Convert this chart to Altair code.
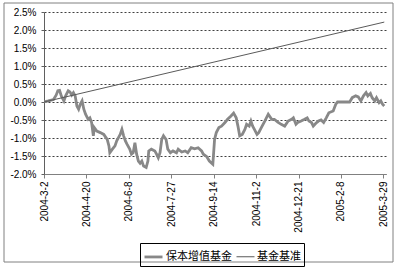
import altair as alt
import pandas as pd

# ---- data ----
series_names = ["保本增值基金", "基金基准"]

fund_dates = [
    "2004-03-02", "2004-03-07", "2004-03-13", "2004-03-16", "2004-03-18", "2004-03-20",
    "2004-03-22", "2004-03-25", "2004-03-27", "2004-03-30", "2004-04-01", "2004-04-03",
    "2004-04-05", "2004-04-07", "2004-04-09", "2004-04-11", "2004-04-13", "2004-04-15",
    "2004-04-17", "2004-04-19", "2004-04-22", "2004-04-24", "2004-04-26", "2004-04-28",
    "2004-04-29", "2004-05-02", "2004-05-06", "2004-05-10", "2004-05-14", "2004-05-16",
    "2004-05-17", "2004-05-20", "2004-05-23", "2004-05-25", "2004-05-27", "2004-05-29",
    "2004-05-31", "2004-06-02", "2004-06-04", "2004-06-06", "2004-06-09", "2004-06-11",
    "2004-06-13", "2004-06-15", "2004-06-17", "2004-06-19", "2004-06-21", "2004-06-23",
    "2004-06-25", "2004-06-28", "2004-06-30", "2004-07-01", "2004-07-04", "2004-07-08",
    "2004-07-10", "2004-07-12", "2004-07-14", "2004-07-16", "2004-07-18", "2004-07-21",
    "2004-07-23", "2004-07-26", "2004-07-29", "2004-08-02", "2004-08-04", "2004-08-08",
    "2004-08-12", "2004-08-15", "2004-08-19", "2004-08-23", "2004-08-27", "2004-08-31",
    "2004-09-02", "2004-09-06", "2004-09-09", "2004-09-13", "2004-09-15", "2004-09-17",
    "2004-09-20", "2004-09-23", "2004-09-27", "2004-09-30", "2004-10-04", "2004-10-07",
    "2004-10-10", "2004-10-12", "2004-10-14", "2004-10-17", "2004-10-20", "2004-10-22",
    "2004-10-25", "2004-10-27", "2004-10-29", "2004-10-31", "2004-11-03", "2004-11-05",
    "2004-11-08", "2004-11-12", "2004-11-16", "2004-11-20", "2004-11-23", "2004-11-27",
    "2004-12-01", "2004-12-05", "2004-12-09", "2004-12-13", "2004-12-15", "2004-12-18",
    "2004-12-20", "2004-12-24", "2004-12-28", "2004-12-31", "2005-01-02", "2005-01-05",
    "2005-01-07", "2005-01-10", "2005-01-13", "2005-01-16", "2005-01-19", "2005-01-22",
    "2005-01-25", "2005-01-30", "2005-02-02", "2005-02-04", "2005-02-10", "2005-02-18",
    "2005-02-21", "2005-02-25", "2005-02-28", "2005-03-03", "2005-03-06", "2005-03-09",
    "2005-03-11", "2005-03-14", "2005-03-16", "2005-03-19", "2005-03-21", "2005-03-24",
    "2005-03-26", "2005-03-28", "2005-03-30",
]
fund_values = [
    0.00, 0.03, 0.07, 0.19, 0.31, 0.32,
    0.17, 0.03, 0.17, 0.31, 0.28, 0.19,
    0.26, 0.17, -0.11, -0.20, -0.06, 0.03,
    -0.20, -0.34, -0.48, -0.44, -0.57, -0.94,
    -0.71, -0.81, -0.85, -0.90, -1.04, -1.22,
    -1.41, -1.31, -1.22, -1.08, -0.99, -0.90,
    -0.76, -0.94, -1.08, -1.18, -1.31, -1.45,
    -1.41, -1.13, -1.45, -1.64, -1.70, -1.64,
    -1.78, -1.82, -1.64, -1.36, -1.31, -1.36,
    -1.45, -1.55, -1.41, -1.04, -0.94, -1.04,
    -1.31, -1.41, -1.36, -1.41, -1.31, -1.39,
    -1.36, -1.41, -1.27, -1.30, -1.27, -1.36,
    -1.45, -1.52, -1.64, -1.73, -1.04, -0.85,
    -0.71, -0.67, -0.57, -0.48, -0.39, -0.31,
    -0.44, -0.67, -0.94, -0.90, -0.76, -0.62,
    -0.67, -0.53, -0.67, -0.76, -0.90, -0.85,
    -0.71, -0.53, -0.34, -0.48, -0.48, -0.56,
    -0.62, -0.67, -0.53, -0.48, -0.44, -0.62,
    -0.57, -0.53, -0.48, -0.44, -0.53, -0.57,
    -0.67, -0.59, -0.53, -0.50, -0.57, -0.44,
    -0.30, -0.25, -0.06, 0.00, 0.00, 0.00,
    0.12, 0.17, 0.14, 0.03, 0.17, 0.26,
    0.17, 0.24, 0.12, 0.03, 0.12, -0.02,
    0.03, -0.06, -0.11,
]

bench_dates = ["2004-03-02", "2005-03-30"]
bench_values = [0.00, 2.22]

y_ticks = [-2.0, -1.5, -1.0, -0.5, 0.0, 0.5, 1.0, 1.5, 2.0, 2.5]
x_tick_dates = ["2004-03-02", "2004-04-20", "2004-06-08", "2004-07-27", "2004-09-14",
                "2004-11-02", "2004-12-21", "2005-02-08", "2005-03-29"]
x_domain_dates = ["2004-03-02", "2005-04-01"]

# ---- build table ----
df = pd.concat([
    pd.DataFrame({"date": fund_dates, "value": fund_values, "series": series_names[0]}),
    pd.DataFrame({"date": bench_dates, "value": bench_values, "series": series_names[1]}),
], ignore_index=True)


def ms(d):
    return int(pd.Timestamp(d, tz="UTC").value // 10**6)


x_ticks_ms = [ms(d) for d in x_tick_dates]
x_domain_ms = [ms(d) for d in x_domain_dates]

AX_FONT = "Liberation Sans"


def make_legend():
    return alt.Legend(title=None, orient="none", direction="horizontal",
                      legendX=96, legendY=231,
                      symbolType="stroke", symbolSize=324,
                      labelFont="Noto Sans CJK SC", labelFontSize=11,
                      labelColor="#000000",
                      strokeColor="#000000", padding=3,
                      columnPadding=2, symbolOffset=0,
                      labelOffset=2)


lines = alt.Chart(df).mark_line(clip=True).encode(
    x=alt.X("date:T",
            scale=alt.Scale(type="utc", domain=x_domain_ms),
            axis=alt.Axis(values=x_ticks_ms, title=None, grid=False,
                          labelExpr="utcFormat(datum.value, '%Y-%-m-%-d')",
                          labelAngle=270, labelFont=AX_FONT, labelFontSize=10,
                          labelColor="#000000", labelPadding=3,
                          tickSize=4, tickColor="#808080", domainColor="#808080",
                          labelOverlap=False, labelFlush=False)),
    y=alt.Y("value:Q",
            scale=alt.Scale(domain=[-2.0, 2.5], nice=False, zero=False),
            axis=alt.Axis(values=y_ticks, title=None, grid=True,
                          gridDash=[2, 2], gridColor="#404040", gridWidth=1,
                          labelExpr="(datum.value < 0 ? '-' : '') + format(abs(datum.value), '.1f') + '%'",
                          labelFont=AX_FONT, labelFontSize=10, labelColor="#000000",
                          labelPadding=5, tickSize=3, tickColor="#606060",
                          domainColor="#606060")),
    color=alt.Color("series:N",
                    scale=alt.Scale(domain=series_names, range=["#888888", "#5a5a5a"]),
                    legend=make_legend()),
    strokeWidth=alt.StrokeWidth("series:N",
                                scale=alt.Scale(domain=series_names, range=[2.8, 1]),
                                legend=make_legend()),
    order=alt.Order("date:T"),
)

border = alt.Chart(pd.DataFrame({"k": [0]})).mark_rect(
    fill=None, fillOpacity=0, stroke="#808080", strokeWidth=1, clip=False
).encode(
    x=alt.value(-40), x2=alt.value(349), y=alt.value(-9), y2=alt.value(250)
)

chart = alt.layer(border, lines).properties(
    width=342, height=162,
    autosize=alt.AutoSizeParams(type="none"),
    padding={"left": 44, "top": 12, "right": 14, "bottom": 93},
    background="#ffffff",
).configure_view(stroke=None)

chart.save("out.html", embed_options={"renderer": "svg", "actions": False})
